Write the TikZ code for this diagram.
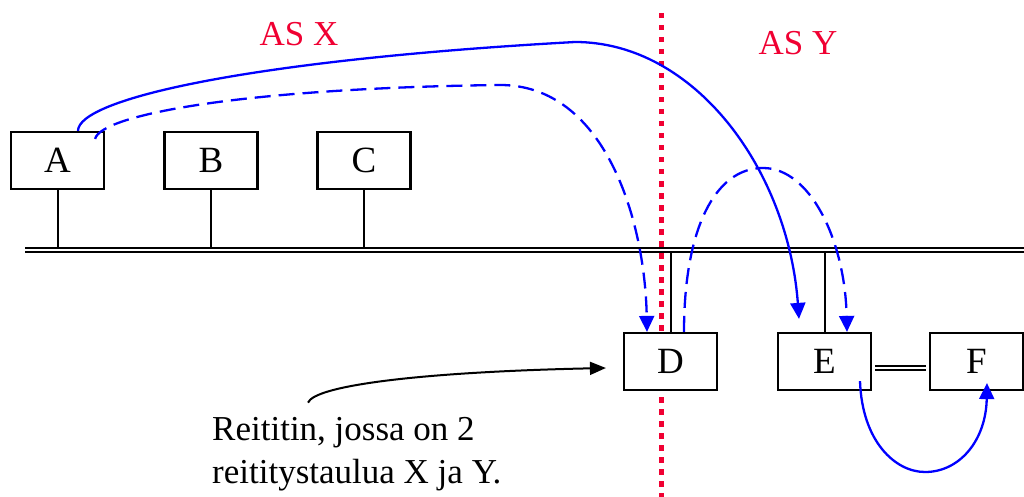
\documentclass[tikz,border=0pt]{standalone}
\usepackage{fontspec}
\setmainfont{Liberation Serif}
\usetikzlibrary{arrows.meta,calc}
\definecolor{asred}{RGB}{240,0,50}

\begin{document}
\begin{tikzpicture}[
    x=1pt, y=-1pt,
    font=\fontsize{35}{42}\selectfont,
    box/.style={
      draw,
      fill=white,
      line width=2.2pt,
      minimum width=93pt,
      minimum height=57pt,
      inner sep=0pt,
      font=\fontsize{37}{44}\selectfont,
    },
    bus/.style={draw, line width=1.9pt, double distance=2.2pt},
    drop/.style={line width=2pt},
    hop/.style={-{Triangle[length=16pt,width=15pt]}, blue, line width=2.3pt},
    hopdash/.style={hop, dash pattern=on 16pt off 8pt},
    astext/.style={text=asred},
  ]
    \useasboundingbox (0,0) rectangle (1024,497);

    % AS boundary
    \coordinate (sepTop) at (661,13);
    \coordinate (sepBot) at (661,497);
    \draw[asred, line width=5pt, dash pattern=on 5.5pt off 6.5pt] (sepTop) -- (sepBot);

    \node[astext] (asx) at (299,34.5) {AS X};
    \node[astext] (asy) at (798,43.5) {AS Y};

    % routers
    \node[box] (A) at (57.5,160.5) {A};
    \node[box] (B) at (211,160.5) {B};
    \node[box] (C) at (364,160.5) {C};
    \node[box] (D) at (670.5,361.5) {D};
    \node[box] (E) at (824.5,361.5) {E};
    \node[box] (F) at (976.5,361.5) {F};

    % shared link
    \coordinate (busL) at (25,250);
    \coordinate (busR) at (1024,250);
    \foreach \n in {A,B,C}
      \draw[drop] (\n.south) -- (\n.south |- busL);
    \foreach \n in {D,E}
      \draw[drop] (\n.north) -- (\n.north |- busL);
    \draw[bus] (busL) -- (busR);
    \draw[bus] ($(E.east)+(3,6.5)$) -- ($(F.west)+(-3,6.5)$);

    % routes
    \draw[hop] ($(A.north)+(20.5,0)$)
      .. controls +(0,-32) and (250,60) .. (575,42)
      .. controls (695,42) and (788,170) .. ($(E.north)+(-25.5,-13)$);
    \draw[hopdash] ($(A.north east)+(-10,8)$)
      .. controls +(6,-25) and (250,88) .. (500,85)
      .. controls (605,85) and (645,220) .. ($(D.north)+(-23.5,0)$);
    \draw[hopdash] ($(D.north)+(13.5,0)$)
      .. controls +(0,-103) and (715,168) .. (763,168)
      .. controls (810,168) and (845,240) .. ($(E.north)+(22.5,0)$);
    \draw[hop] ($(E.south)+(35.5,-10)$)
      .. controls +(2,60) and (895,472) .. (925,472)
      .. controls (960,472) and (986,440) .. ($(F.south)+(10.5,-8)$);

    % note
    \node[anchor=base west, inner sep=0pt] (note1) at (212,440) {Reititin, jossa on 2};
    \node[anchor=base west, inner sep=0pt] (note2) at (212,483) {reititystaulua X ja Y.};
    \draw[-{Triangle[length=16pt,width=13pt]}, line width=2pt]
      ($(note1.north west)+(96,-14)$)
      .. controls +(7,-17) and +(-187,4) .. ($(D.west)+(-17,6.5)$);
\end{tikzpicture}
\end{document}
